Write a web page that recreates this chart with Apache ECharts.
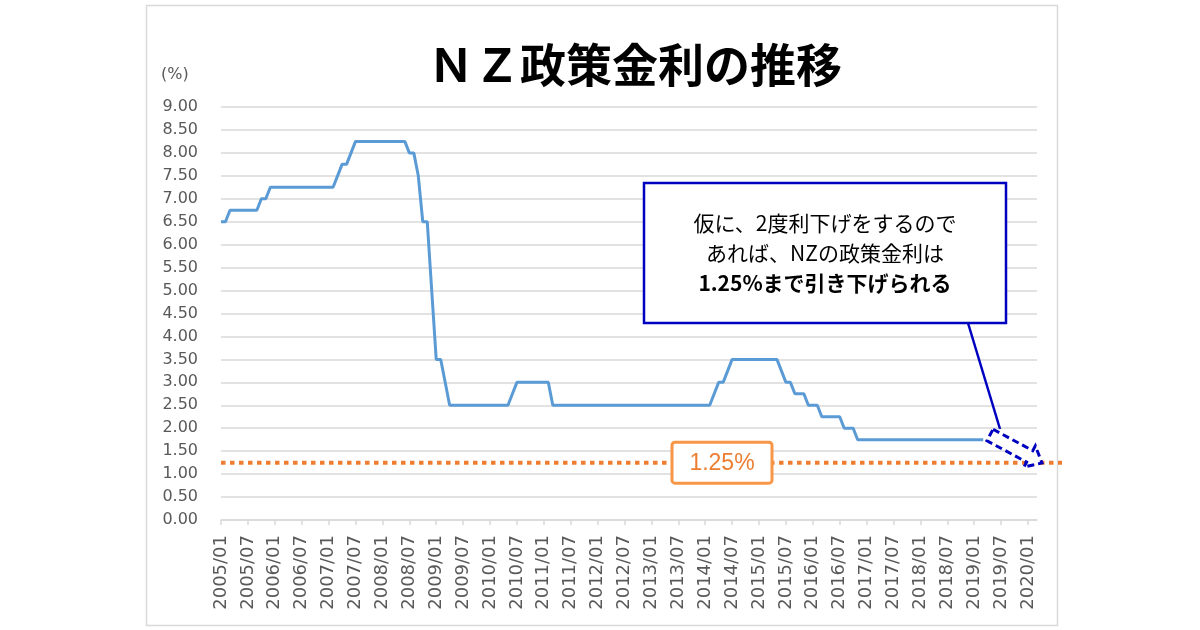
<!DOCTYPE html>
<html>
<head>
<meta charset="utf-8">
<script type="text/javascript" src="https://cdn.jsdelivr.net/npm/echarts@6/dist/echarts.min.js"></script>
<style>
html, body { margin: 0; padding: 0; background: #fff; }
#container-ocr { width: 1200px; height: 630px; }
</style>
</head>
<body>
<div id="container-ocr"></div>

<script type="text/javascript">
// months 2005/01 .. 2020/03 on the category axis
var months = [];
for (var y = 2005; y <= 2020; y++) {
	for (var mo = 1; mo <= 12; mo++) {
		if (y === 2020 && mo > 3) break;
		months.push(y + '/' + (mo < 10 ? '0' + mo : mo));
	}
}

// NZ OCR, month-end values (2005/01 .. 2019/03)
var ocrRate = [
	6.5, 6.5, 6.75, 6.75, 6.75, 6.75, 6.75, 6.75, 6.75, 7.0, 7.0, 7.25,
	7.25, 7.25, 7.25, 7.25, 7.25, 7.25, 7.25, 7.25, 7.25, 7.25, 7.25, 7.25,
	7.25, 7.25, 7.5, 7.75, 7.75, 8.0, 8.25, 8.25, 8.25, 8.25, 8.25, 8.25,
	8.25, 8.25, 8.25, 8.25, 8.25, 8.25, 8.0, 8.0, 7.5, 6.5, 6.5, 5.0,
	3.5, 3.5, 3.0, 2.5, 2.5, 2.5, 2.5, 2.5, 2.5, 2.5, 2.5, 2.5,
	2.5, 2.5, 2.5, 2.5, 2.5, 2.75, 3.0, 3.0, 3.0, 3.0, 3.0, 3.0,
	3.0, 3.0, 2.5, 2.5, 2.5, 2.5, 2.5, 2.5, 2.5, 2.5, 2.5, 2.5,
	2.5, 2.5, 2.5, 2.5, 2.5, 2.5, 2.5, 2.5, 2.5, 2.5, 2.5, 2.5,
	2.5, 2.5, 2.5, 2.5, 2.5, 2.5, 2.5, 2.5, 2.5, 2.5, 2.5, 2.5,
	2.5, 2.5, 2.75, 3.0, 3.0, 3.25, 3.5, 3.5, 3.5, 3.5, 3.5, 3.5,
	3.5, 3.5, 3.5, 3.5, 3.5, 3.25, 3.0, 3.0, 2.75, 2.75, 2.75, 2.5,
	2.5, 2.5, 2.25, 2.25, 2.25, 2.25, 2.25, 2.0, 2.0, 2.0, 1.75, 1.75,
	1.75, 1.75, 1.75, 1.75, 1.75, 1.75, 1.75, 1.75, 1.75, 1.75, 1.75, 1.75,
	1.75, 1.75, 1.75, 1.75, 1.75, 1.75, 1.75, 1.75, 1.75, 1.75, 1.75, 1.75,
	1.75, 1.75, 1.75
];

var targetRate = 1.25;
var noteLines = ['仮に、2度利下げをするので', 'あれば、NZの政策金利は', '1.25%まで引き下げられる'];

var dom = document.getElementById('container-ocr');
var myChart = echarts.init(dom);

var option = {
	animation: false,
	backgroundColor: '#fff',
	title: {
		text: 'ＮＺ政策金利の推移',
		left: 423,
		top: 37,
		textStyle: {
			fontFamily: 'Noto Sans CJK JP',
			fontSize: 46,
			fontWeight: 'bold',
			color: '#000'
		}
	},
	grid: {
		left: 221,
		right: 163,
		top: 107,
		bottom: 110
	},
	xAxis: {
		type: 'category',
		data: months,
		boundaryGap: false,
		axisLine: { lineStyle: { color: '#d9d9d9', width: 1.5 } },
		axisTick: { interval: 5, length: 5, lineStyle: { color: '#d9d9d9', width: 1.5 } },
		axisLabel: {
			interval: 5,
			rotate: 90,
			margin: 15,
			color: '#595959',
			fontFamily: 'DejaVu Sans',
			fontSize: 18
		},
		splitLine: { show: false }
	},
	yAxis: {
		type: 'value',
		min: 0,
		max: 9,
		interval: 0.5,
		axisLine: { show: false },
		axisTick: { show: false },
		axisLabel: {
			margin: 23,
			color: '#595959',
			fontFamily: 'DejaVu Sans',
			fontSize: 16,
			formatter: function (v) { return v.toFixed(2); }
		},
		splitLine: { lineStyle: { color: '#d9d9d9', width: 1.5 } }
	},
	series: [{
		type: 'line',
		data: ocrRate,
		symbol: 'none',
		smooth: false,
		lineStyle: { color: '#5b9bd5', width: 3 },
		z: 3
	}]
};

myChart.setOption(option);

// annotations, placed against the axes
var y125 = myChart.convertToPixel({ yAxisIndex: 0 }, targetRate);
var x0 = myChart.convertToPixel({ xAxisIndex: 0 }, 0);

// hollow block arrow from tail centre to tip
function blockArrow(tx, ty, px, py, sw, hw, hl) {
	var dx = px - tx, dy = py - ty;
	var L = Math.sqrt(dx * dx + dy * dy);
	var c = dx / L, s = dy / L;
	var loc = [[0, -sw], [L - hl, -sw], [L - hl, -hw], [L, 0], [L - hl, hw], [L - hl, sw], [0, sw]];
	return loc.map(function (p) {
		return [tx + p[0] * c - p[1] * s, ty + p[0] * s + p[1] * c];
	});
}

var blue = '#0000c0';

myChart.setOption({
	graphic: [
		{
			type: 'rect',
			shape: { x: 146.5, y: 5.5, width: 911, height: 620 },
			style: { fill: 'none', stroke: '#d9d9d9', lineWidth: 1.5 },
			silent: true
		},
		{
			type: 'text',
			left: 161,
			top: 67,
			style: { text: '(%)', fill: '#595959', font: '16px "DejaVu Sans"' }
		},
		{
			type: 'line',
			shape: { x1: x0, y1: y125, x2: 1062, y2: y125 },
			style: { stroke: '#ed7d31', lineWidth: 4, lineDash: [4.5, 4.5] },
			z: 10
		},
		{
			type: 'rect',
			shape: { x: 672, y: y125 - 20.5, width: 100, height: 41, r: 3 },
			style: { fill: '#fff', stroke: '#f79646', lineWidth: 3 },
			z: 11
		},
		{
			type: 'text',
			x: 722,
			y: y125 + 1,
			style: {
				text: '1.25%',
				fill: '#ed7d31',
				font: '23px "Liberation Sans"',
				align: 'center',
				verticalAlign: 'middle'
			},
			z: 12
		},
		{
			type: 'line',
			shape: { x1: 968, y1: 323, x2: 1000, y2: 429 },
			style: { stroke: blue, lineWidth: 2.5 },
			z: 10
		},
		{
			type: 'polygon',
			shape: { points: blockArrow(990, 435, 1042, 463, 6.5, 12, 14) },
			style: { fill: '#fff', stroke: blue, lineWidth: 3, lineDash: [7, 4] },
			z: 11
		},
		{
			type: 'rect',
			shape: { x: 644, y: 183, width: 362, height: 140 },
			style: { fill: '#fff', stroke: blue, lineWidth: 2.5 },
			z: 10
		},
		{
			type: 'text',
			x: 825, y: 223,
			style: { text: noteLines[0], fill: '#000', font: '21px "Noto Sans CJK JP"', align: 'center', verticalAlign: 'middle' },
			z: 11
		},
		{
			type: 'text',
			x: 825, y: 253,
			style: { text: noteLines[1], fill: '#000', font: '21px "Noto Sans CJK JP"', align: 'center', verticalAlign: 'middle' },
			z: 11
		},
		{
			type: 'text',
			x: 825, y: 283,
			style: { text: noteLines[2], fill: '#000', font: 'bold 21px "Noto Sans CJK JP"', align: 'center', verticalAlign: 'middle' },
			z: 11
		}
	]
});

window.addEventListener('resize', function () {
	myChart.resize();
});
</script>
</body>
</html>
